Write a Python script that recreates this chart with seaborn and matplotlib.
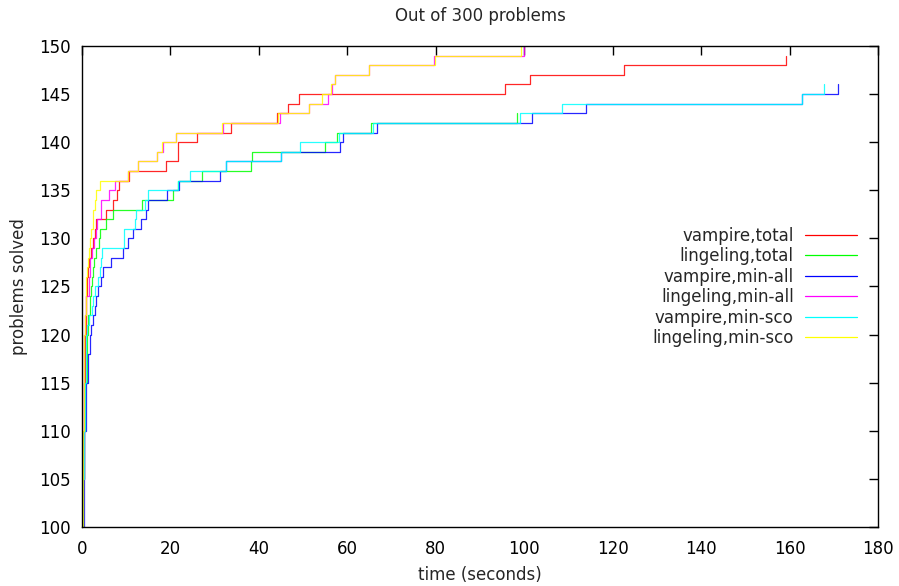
import matplotlib
matplotlib.use("Agg")
import matplotlib.pyplot as plt
import pandas as pd
import seaborn as sns
from matplotlib.lines import Line2D

# ---------------- data ----------------
series_names = ["vampire,total", "lingeling,total", "vampire,min-all",
                "lingeling,min-all", "vampire,min-sco", "lingeling,min-sco"]
series_colors = ["#ff0000", "#00ff00", "#0000ff", "#ff00ff", "#00ffff", "#ffff00"]

vampire_total_t = [0.0, 0.15, 0.25, 0.35, 0.45, 0.6, 0.8, 1.0, 1.2, 1.4, 1.5, 2.0, 2.6, 2.9, 3.2,
                   5.5, 6.9, 8.0, 8.3, 10.6, 19.1, 21.7, 21.8, 25.9, 33.8, 44.2, 46.5, 49.1,
                   95.7, 101.2, 122.6, 159.3]
vampire_total_n = [90, 100, 105, 110, 115, 120, 122, 124, 126, 127, 128, 129, 130, 131, 132,
                   133, 134, 135, 136, 137, 138, 139, 140, 141, 142, 143, 144, 145,
                   146, 147, 148, 149]

lingeling_total_t = [0.0, 0.15, 0.3, 0.45, 0.7, 1.1, 1.4, 1.8, 2.0, 2.2, 2.4, 2.7, 3.2, 3.9, 4.0,
                     5.5, 7.0, 13.6, 20.5, 21.7, 27.1, 38.3, 38.4, 55.0, 57.6, 65.3, 98.3]
lingeling_total_n = [90, 100, 105, 110, 115, 120, 122, 124, 125, 126, 127, 128, 129, 130, 131,
                     132, 133, 134, 135, 136, 137, 138, 139, 140, 141, 142, 143]

vampire_minall_t = [0.0, 0.2, 0.35, 0.55, 0.9, 1.3, 1.8, 2.1, 2.5, 2.9, 3.2, 3.6, 4.2, 4.7, 6.6,
                    9.3, 10.5, 11.5, 13.4, 14.5, 14.9, 19.3, 22.0, 31.2, 32.6, 44.9, 58.3, 59.1,
                    66.6, 101.7, 114.0, 162.9, 170.9]
vampire_minall_n = [90, 100, 105, 110, 115, 118, 120, 121, 122, 123, 124, 125, 126, 127, 128,
                    129, 130, 131, 132, 133, 134, 135, 136, 137, 138, 139, 140, 141,
                    142, 143, 144, 145, 146]

lingeling_minall_t = [0.0, 0.1, 0.25, 0.35, 0.45, 0.5, 0.7, 1.0, 1.5, 1.9, 2.3, 2.8, 3.2, 3.3, 4.2,
                      4.3, 6.0, 7.5, 10.5, 12.7, 17.0, 18.3, 21.3, 31.8, 44.8, 51.4, 55.7, 56.5,
                      57.2, 64.8, 79.6, 99.9]
lingeling_minall_n = [90, 100, 105, 110, 115, 120, 122, 124, 126, 128, 129, 130, 131, 132, 133,
                      134, 135, 136, 137, 138, 139, 140, 141, 142, 143, 144, 145, 146,
                      147, 148, 149, 150]

vampire_minsco_t = [0.0, 0.15, 0.3, 0.5, 0.75, 1.0, 1.2, 1.6, 2.2, 2.6, 3.0, 3.6, 4.0, 4.4, 4.5,
                    9.5, 9.6, 11.9, 12.3, 14.2, 14.9, 21.8, 24.4, 32.6, 44.9, 49.4, 58.2, 65.9,
                    99.0, 108.5, 162.9, 167.7]
vampire_minsco_n = [90, 100, 105, 110, 115, 120, 121, 122, 123, 124, 125, 126, 127, 128, 129,
                    130, 131, 132, 133, 134, 135, 136, 137, 138, 139, 140, 141, 142,
                    143, 144, 145, 146]

lingeling_minsco_t = [0.0, 0.1, 0.2, 0.3, 0.35, 0.4, 0.6, 0.8, 1.0, 1.2, 1.4, 1.6, 1.8, 2.0, 2.4,
                      2.6, 3.0, 3.2, 4.0, 10.3, 12.6, 16.9, 18.2, 21.3, 31.6, 44.4, 51.4, 54.2,
                      56.2, 57.1, 64.8, 79.8, 99.2]
lingeling_minsco_n = [90, 100, 105, 110, 115, 120, 122, 124, 126, 127, 128, 129, 130, 131, 132,
                      133, 134, 135, 136, 137, 138, 139, 140, 141, 142, 143, 144, 145,
                      146, 147, 148, 149, 150]

x_ticks = list(range(0, 181, 20))
y_ticks = list(range(100, 151, 5))

# ---------------- build long table ----------------
all_t = [vampire_total_t, lingeling_total_t, vampire_minall_t,
         lingeling_minall_t, vampire_minsco_t, lingeling_minsco_t]
all_n = [vampire_total_n, lingeling_total_n, vampire_minall_n,
         lingeling_minall_n, vampire_minsco_n, lingeling_minsco_n]
frames = []
for name, t, n in zip(series_names, all_t, all_n):
    frames.append(pd.DataFrame({"series": name, "time": t, "solved": n}))
df = pd.concat(frames, ignore_index=True)

# ---------------- plot ----------------
sns.set_style("white")
plt.rcParams["font.family"] = ["DejaVu Sans"]

fig = plt.figure(figsize=(8.99, 5.86), dpi=100)
ax = fig.add_axes([82 / 899, 1 - 527 / 586, (878 - 82) / 899, (527 - 46) / 586])

sns.lineplot(data=df, x="time", y="solved", hue="series", hue_order=series_names,
             palette=series_colors, estimator=None, sort=False, drawstyle="steps-post",
             linewidth=0.9, alpha=0.85, legend=False, ax=ax)

ax.set_xlim(0, 180)
ax.set_ylim(100, 150)
ax.set_xticks(x_ticks)
ax.set_yticks(y_ticks)
ax.tick_params(axis="both", direction="in", length=6.5, width=1.0, color="black",
               top=True, right=True, labelsize=12, labelcolor="black")
ax.tick_params(axis="x", pad=9)
ax.tick_params(axis="y", pad=8)
for sp in ax.spines.values():
    sp.set_visible(True)
    sp.set_color("black")
    sp.set_linewidth(1.0)

ax.set_xlabel("time (seconds)", fontsize=12, labelpad=6)
ax.set_ylabel("problems solved", fontsize=12, labelpad=8)
ax.set_title("Out of 300 problems", fontsize=12, pad=18)

handles = [Line2D([], [], color=c, lw=0.9) for c in series_colors]
ax.legend(handles, series_names, loc="center right", bbox_to_anchor=(0.9736, 0.499),
          frameon=False, markerfirst=False, handlelength=3.1, handletextpad=0.7,
          labelspacing=0.15, borderpad=0, borderaxespad=0, fontsize=12)

fig.savefig("out.png", dpi=100)
